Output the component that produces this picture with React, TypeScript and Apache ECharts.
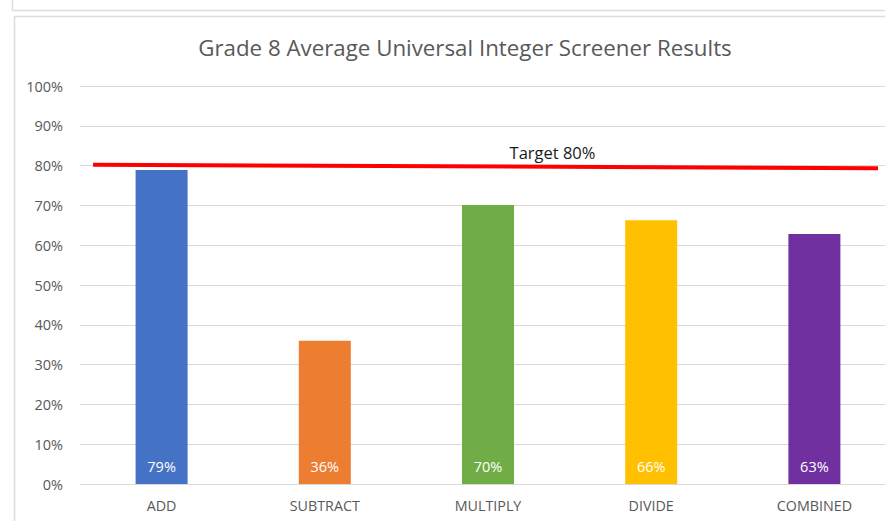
import React, { useEffect, useRef } from "react";
import * as echarts from "echarts";

const title = "Grade 8 Average Universal Integer Screener Results";
const categories = ["ADD", "SUBTRACT", "MULTIPLY", "DIVIDE", "COMBINED"];
const values = [0.789, 0.36, 0.701, 0.663, 0.628];
const barColors = ["#4472C4", "#ED7D31", "#70AD47", "#FFC000", "#7030A0"];
const targetLabel = "Target 80%";
// target line endpoints: [fraction across plot, value]
const targetLine = [
  [0.016, 0.802],
  [0.978, 0.7935],
];

export default function App() {
  const ref = useRef<HTMLDivElement>(null);
  useEffect(() => {
    if (!ref.current) return;
    const chart = echarts.init(ref.current, null, { renderer: "svg" });
    const font = "'Open Sans', 'Noto Sans', sans-serif";
    chart.setOption({
      animation: false,
      backgroundColor: "#ffffff",
      textStyle: { fontFamily: font },
      title: {
        text: title,
        left: 460,
        textAlign: "center",
        top: 31,
        textStyle: {
          fontFamily: font,
          fontSize: 22.3,
          fontWeight: "normal",
          color: "#595959",
        },
      },
      grid: { left: 80, top: 86, width: 816, height: 398, outerBoundsMode: "none", containLabel: false },
      xAxis: [
        {
          type: "category",
          data: categories,
          axisLine: { lineStyle: { color: "#d9d9d9", width: 1 } },
          axisTick: { show: false },
          axisLabel: { color: "#595959", fontSize: 14.3, margin: 14, fontFamily: font },
        },
        {
          type: "value",
          min: 0,
          max: 1,
          show: false,
        },
      ],
      yAxis: {
        type: "value",
        min: 0,
        max: 1,
        interval: 0.1,
        axisLine: { show: false },
        axisTick: { show: false },
        splitLine: { lineStyle: { color: "#d9d9d9", width: 1 } },
        axisLabel: {
          color: "#595959",
          fontSize: 14.5,
          margin: 17,
          fontFamily: font,
          formatter: (v: number) => Math.round(v * 100) + "%",
        },
      },
      series: [
        {
          type: "bar",
          xAxisIndex: 0,
          barWidth: 52,
          data: values.map((v, i) => ({ value: v, itemStyle: { color: barColors[i] } })),
          label: {
            show: true,
            position: "insideBottom",
            distance: 10,
            color: "#ffffff",
            fontSize: 14.5,
            fontFamily: font,
            formatter: (p: any) => Math.round(p.value * 100) + "%",
          },
        },
        {
          type: "line",
          xAxisIndex: 1,
          data: targetLine,
          symbol: "none",
          lineStyle: { color: "#ff0000", width: 4 },
          z: 5,
        },
      ],
      graphic: [
        { type: "line", shape: { x1: 12.5, y1: 0, x2: 12.5, y2: 10.5 }, style: { stroke: "#dcdcdc", lineWidth: 1.5 } },
        { type: "line", shape: { x1: 12, y1: 10.5, x2: 885, y2: 10.5 }, style: { stroke: "#dcdcdc", lineWidth: 1.5 } },
        { type: "line", shape: { x1: 14.5, y1: 16.5, x2: 14.5, y2: 521 }, style: { stroke: "#dcdcdc", lineWidth: 1.5 } },
        { type: "line", shape: { x1: 14, y1: 16.5, x2: 885, y2: 16.5 }, style: { stroke: "#dcdcdc", lineWidth: 1.5 } },
        {
          type: "text",
          x: 552.5,
          y: 152,
          style: {
            text: targetLabel,
            fill: "#1a1a1a",
            font: "16.5px 'Open Sans', 'Noto Sans', sans-serif",
            textAlign: "center",
            textVerticalAlign: "middle",
          },
        },
      ],
    });
    return () => chart.dispose();
  }, []);
  return (
    <div
      ref={ref}
      style={{ position: "fixed", left: 0, top: 0, width: 885, height: 521, background: "#fff" }}
    />
  );
}
